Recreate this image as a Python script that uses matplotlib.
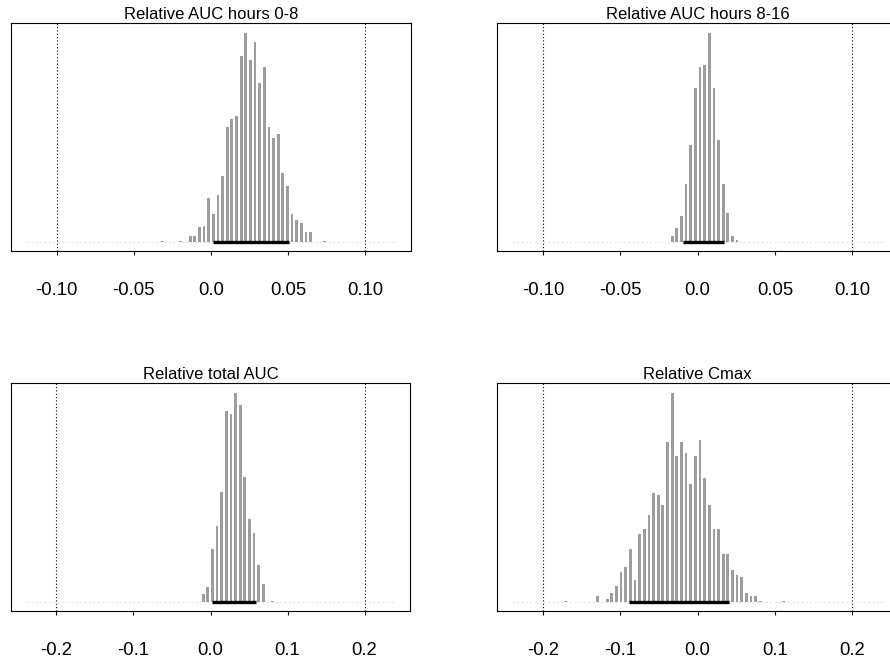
import matplotlib
matplotlib.use("Agg")
import matplotlib.pyplot as plt
import numpy as np

plt.rcParams["font.family"] = ["Liberation Sans", "DejaVu Sans"]

# Panel titles
titles = ["Relative AUC hours 0-8", "Relative AUC hours 8-16",
          "Relative total AUC", "Relative Cmax"]

# Histogram bins: first bin centre and bin width for each panel
bin_start = [-0.0315, -0.0165, -0.0095, -0.171]
bin_width = [0.003, 0.003, 0.006, 0.006]

# Bootstrap counts per bin
counts_auc_0_8 = [1, 0, 0, 0, 1, 0,
                  6, 6, 16, 18, 49, 31, 52, 73, 128, 137, 141, 208, 234, 203,
                  223, 178, 195, 128, 116, 121, 77, 62, 31, 24, 21, 11, 11,
                  0, 0, 1]
counts_auc_8_16 = [12, 27, 50, 115, 191, 305, 345, 350, 414, 305, 201, 115,
                   57, 12, 3]
counts_auc_total = [14, 27, 96, 137, 199, 347, 342, 380, 358, 227, 150, 124,
                    66, 32, 0, 1]
counts_cmax = [1, 0, 0, 0, 0, 0, 0,
               6, 0, 3, 9, 16, 29, 34, 52, 21, 67, 72, 86, 108, 106, 96, 158,
               207, 144, 158, 147, 117, 144, 160, 122, 96, 72, 72, 47, 47, 31,
               26, 24, 9, 6, 6, 1, 0, 0, 0, 0, 1]
counts = [counts_auc_0_8, counts_auc_8_16, counts_auc_total, counts_cmax]

# 90% interval of each statistic
ci_low = [0.001, -0.0093, 0.0022, -0.0889]
ci_high = [0.0503, 0.0170, 0.0594, 0.0409]

# Equivalence limits and axis ticks
limits = [0.10, 0.10, 0.20, 0.20]
tick_values = [[-0.10, -0.05, 0.0, 0.05, 0.10],
               [-0.10, -0.05, 0.0, 0.05, 0.10],
               [-0.2, -0.1, 0.0, 0.1, 0.2],
               [-0.2, -0.1, 0.0, 0.1, 0.2]]
tick_labels = [["-0.10", "-0.05", "0.0", "0.05", "0.10"],
               ["-0.10", "-0.05", "0.0", "0.05", "0.10"],
               ["-0.2", "-0.1", "0.0", "0.1", "0.2"],
               ["-0.2", "-0.1", "0.0", "0.1", "0.2"]]

W, H = 890, 661
fig = plt.figure(figsize=(W / 100, H / 100), dpi=100)

# axes boxes in pixels: left, top, width, height
boxes = [(11, 23, 400, 227.7), (497.3, 23, 400.7, 227.7),
         (11, 383, 399, 227.7), (497.3, 383, 400.7, 227.7)]

for i in range(4):
    l, t, w, h = boxes[i]
    ax = fig.add_axes([l / W, (H - t - h) / H, w / W, h / H])
    c = np.array(counts[i], dtype=float)
    x = bin_start[i] + bin_width[i] * np.arange(len(c))
    lim = limits[i]

    # faint baseline for empty bins
    ax.hlines(0, -1.2 * lim, 1.2 * lim, color="#e0e0e0", lw=0.8,
              linestyle=(0, (2, 2)), zorder=1)
    ax.bar(x, c, width=bin_width[i] * 0.6, color="#9d9d9d",
           linewidth=0, zorder=2)
    ax.hlines(0, ci_low[i], ci_high[i], color="black", lw=2.4,
              zorder=3, capstyle="butt")
    for v in (-lim, lim):
        ax.axvline(v, color="black", lw=0.8, linestyle=(0, (1, 2)), zorder=1)

    m = c.max()
    ax.set_ylim(-0.043 * m, 1.046 * m)
    ax.set_xlim(-1.295 * lim, 1.295 * lim)
    ax.set_yticks([])
    ax.set_xticks(tick_values[i])
    ax.set_xticklabels(tick_labels[i])
    ax.tick_params(axis="x", direction="out", length=3.2, width=0.8,
                   pad=19.5, labelsize=13.3)
    for s in ax.spines.values():
        s.set_linewidth(0.8)
        s.set_color("black")
    ax.set_title(titles[i], fontsize=12, pad=3.2)

fig.savefig("out.png", dpi=100)
